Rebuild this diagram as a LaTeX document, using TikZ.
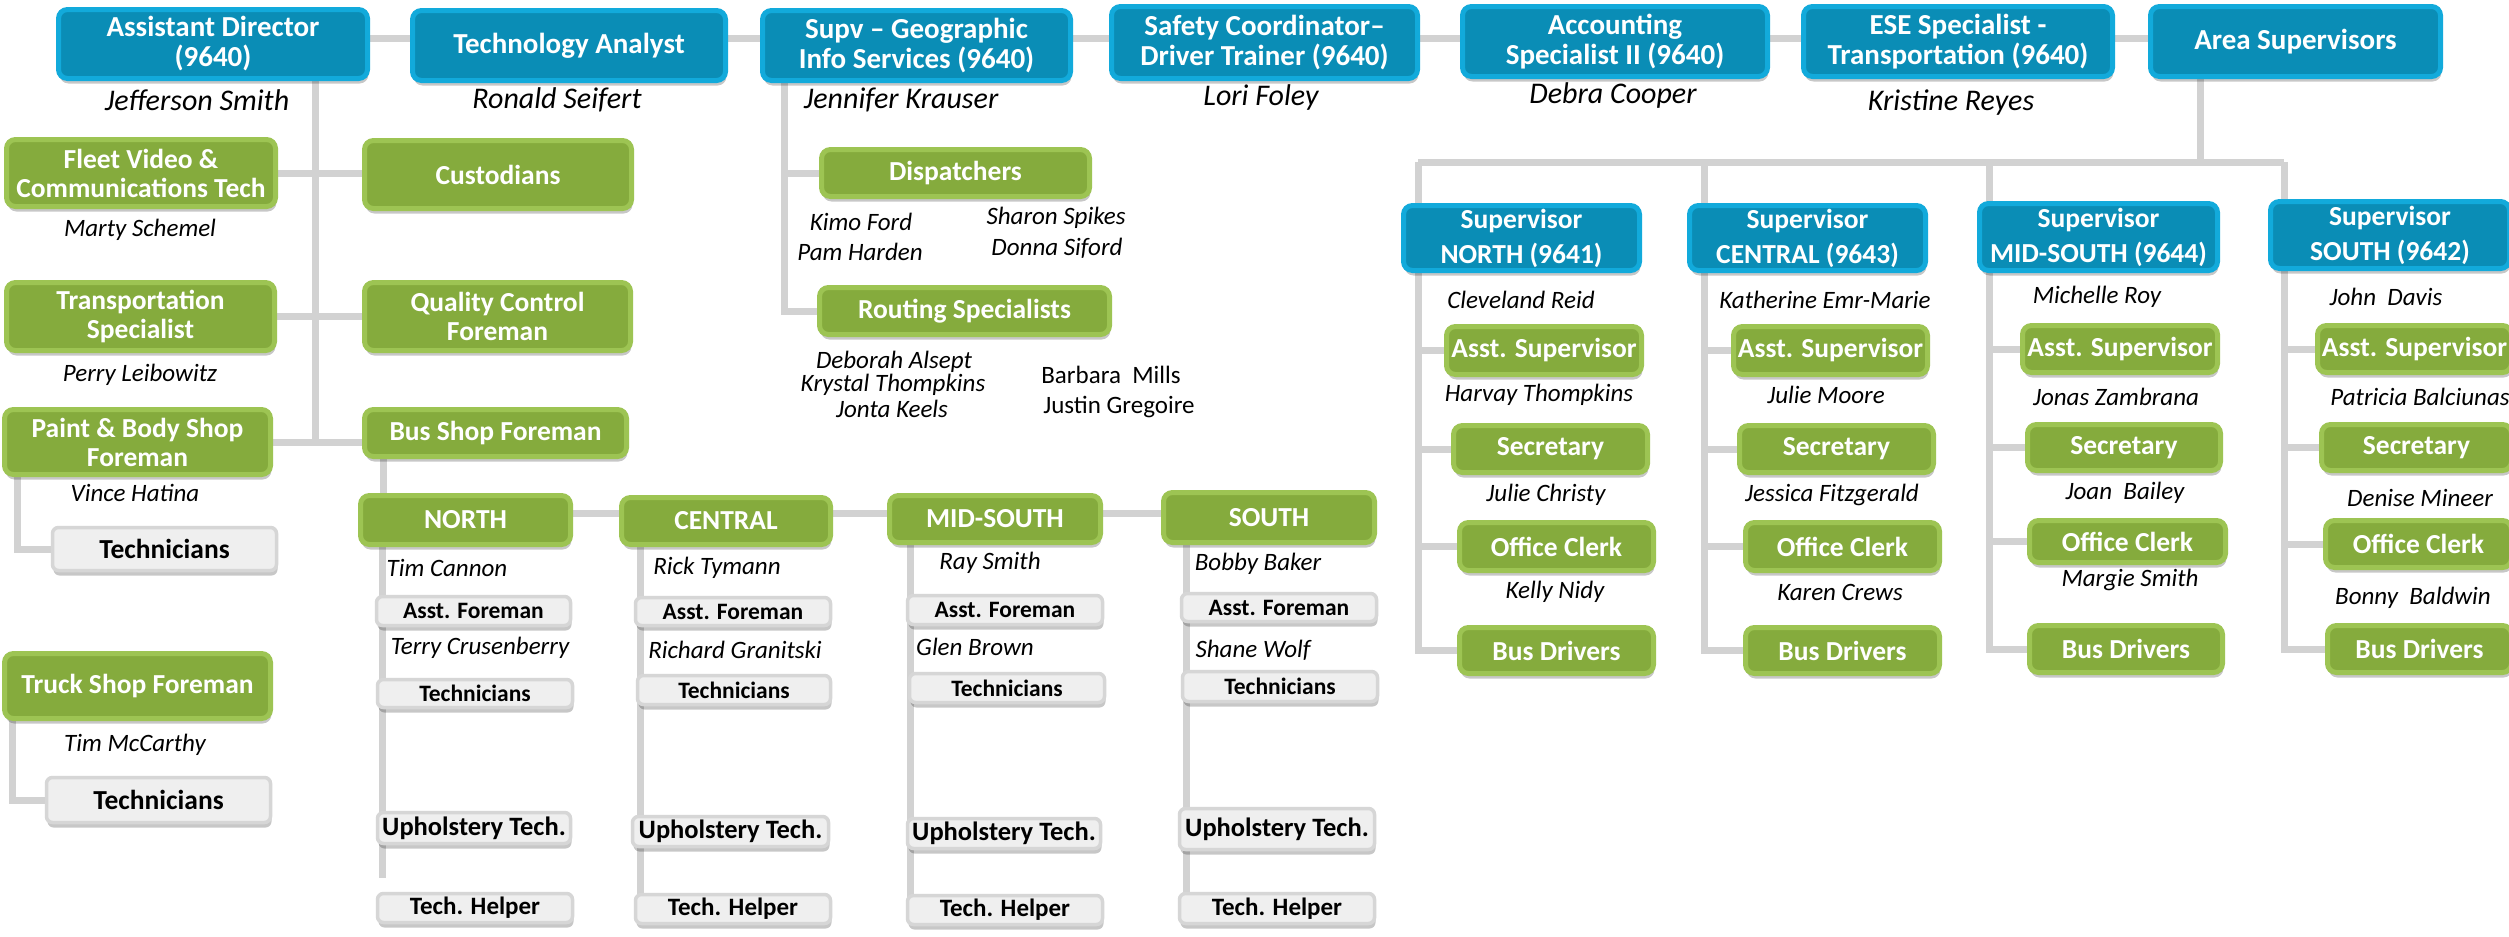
\documentclass[tikz,border=0pt]{standalone}
\usepackage{fontspec}
\setmainfont{Carlito}
\usetikzlibrary{shadows,backgrounds,calc}
\definecolor{bfill}{HTML}{0A8DB6}
\definecolor{bbd}{HTML}{12AADB}
\definecolor{gfill}{HTML}{85AB3D}
\definecolor{gbd}{HTML}{9DC453}
\definecolor{xfill}{HTML}{EFEFEF}
\definecolor{xbd}{HTML}{D6D6D6}
\definecolor{lnc}{HTML}{D2D2D2}
\tikzset{
 boxbase/.style={rounded corners=9pt, inner sep=0pt, outer sep=0pt, align=center,
   drop shadow={shadow xshift=1pt, shadow yshift=-5pt, opacity=0.22, fill=black}},
 bluebox/.style={boxbase, fill=bfill, draw=bbd, line width=5pt, text=white, font=\bfseries\fontsize{29}{30}\selectfont},
 supbox/.style={bluebox, font=\bfseries\fontsize{27.5}{35}\selectfont},
 greenbox/.style={boxbase, fill=gfill, draw=gbd, line width=5pt, text=white, font=\bfseries\fontsize{27.5}{29}\selectfont},
 greybox/.style={boxbase, rounded corners=6pt, fill=xfill, draw=xbd, line width=3.5pt, text=black, font=\bfseries\fontsize{23.5}{26}\selectfont},
 greybig/.style={greybox, font=\bfseries\fontsize{27.5}{29}\selectfont},
 greyup/.style={greybox, font=\bfseries\fontsize{26.5}{29}\selectfont},
 greyhelp/.style={greybox, font=\bfseries\fontsize{25}{29}\selectfont},
 nm/.style={font=\itshape\fontsize{25}{30}\selectfont, inner sep=0pt},
 nmtop/.style={font=\itshape\fontsize{30}{32}\selectfont, inner sep=0pt},
 nmup/.style={font=\fontsize{25}{30}\selectfont, inner sep=0pt},
 conn/.style={draw=lnc, line width=7pt},
}
\newcommand\bx[7]{\node[#2, minimum width={(#5-#3-5)*1pt}, minimum height={(#6-#4-5)*1pt}] (#1) at ({(#3+#5)/2},{(#4+#6)/2}) {#7};}
\begin{document}
\begin{tikzpicture}[x=1pt,y=-1pt]
\useasboundingbox (0,0) rectangle (2509,937);
% top row
\bx{ad}{bluebox}{56}{7}{370}{81}{Assistant Director\\(9640)}
\bx{ta}{bluebox}{410}{8}{728}{83}{Technology Analyst}
\bx{gis}{bluebox}{760}{8}{1073}{83}{Supv – Geographic\\Info Services (9640)}
\bx{safe}{bluebox}{1109}{4}{1420}{81}{Safety Coordinator–\\Driver Trainer (9640)}
\bx{acct}{bluebox}{1460}{4}{1770}{79}{Accounting\\Specialist II (9640)}
\bx{ese}{bluebox}{1801}{4}{2115}{79}{ESE Specialist -\\Transportation (9640)}
\bx{area}{bluebox}{2148}{4}{2443}{79}{Area Supervisors}
\node[nmtop] (n1) at (197,100) {Jefferson Smith};
\node[nmtop] (n2) at (557,100) {Ronald Seifert};
\node[nmtop] (n3) at (901,100) {Jennifer Krauser};
\node[nmtop] (n4) at (1261,97) {Lori Foley};
\node[nmtop] (n5) at (1613,95) {Debra Cooper};
\node[nmtop] (n6) at (1951,103) {Kristine Reyes};
% left column
\bx{fleet}{greenbox}{4}{137}{278}{209}{Fleet Video \&\\Communications Tech}
\bx{cust}{greenbox}{362}{138}{634}{211}{Custodians}
\bx{trans}{greenbox}{4}{280}{277}{353}{Transportation\\Specialist}
\bx{qc}{greenbox}{362}{280}{633}{353}{Quality Control\\Foreman}
\bx{paint}{greenbox}{2}{407}{273}{477}{Paint \& Body Shop\\Foreman}
\bx{bus}{greenbox}{362}{407}{629}{459}{Bus Shop Foreman}
\bx{truck}{greenbox}{2}{651}{273}{721}{Truck Shop Foreman}
\bx{ptech}{greybig}{50}{525}{279}{573}{Technicians}
\bx{ttech}{greybig}{44}{775}{273}{825}{Technicians}
\node[nm] (n7) at (140,230) {Marty Schemel};
\node[nm] (n8) at (140,375) {Perry Leibowitz};
\node[nm] (n9) at (135,493) {Vince Hatina};
\node[nm] (n10) at (135,745) {Tim McCarthy};
% dispatch
\bx{disp}{greenbox}{819}{147}{1092}{199}{Dispatchers}
\bx{rout}{greenbox}{817}{285}{1112}{337}{Routing Specialists}
\node[nm] (d1) at (861,222) {Kimo Ford};
\node[nm] (d2) at (860,252) {Pam Harden};
\node[nm] (d3) at (1056,218) {Sharon Spikes};
\node[nm] (d4) at (1057,248) {Donna Siford};
\node[nm] (r1) at (894,362) {Deborah Alsept};
\node[nm] (r2) at (893,385) {Krystal Thompkins};
\node[nm] (r3) at (892,409) {Jonta Keels};
\node[nmup] (r4) at (1111,375) {Barbara\ \ Mills};
\node[nmup] (r5) at (1119,407) {Justin Gregoire};
% bus shop regions
\bx{rn}{greenbox}{358}{493}{573}{547}{NORTH}
\bx{rc}{greenbox}{619}{495}{833}{547}{CENTRAL}
\bx{rm}{greenbox}{887}{493}{1103}{545}{MID-SOUTH}
\bx{rs}{greenbox}{1161}{490}{1377}{545}{SOUTH}
\bx{naf}{greybox}{374}{594}{573}{628}{Asst. Foreman}
\bx{ntc}{greybox}{375}{677}{575}{710}{Technicians}
\bx{nup}{greyup}{375}{810}{573}{846}{Upholstery Tech.}
\bx{nhp}{greyhelp}{375}{891}{575}{925}{Tech. Helper}
\bx{caf}{greybox}{633}{595}{833}{628}{Asst. Foreman}
\bx{ctc}{greybox}{635}{673}{833}{707}{Technicians}
\bx{cup}{greyup}{630}{814}{831}{849}{Upholstery Tech.}
\bx{chp}{greyhelp}{633}{892}{833}{926}{Tech. Helper}
\bx{maf}{greybox}{905}{593}{1105}{627}{Asst. Foreman}
\bx{mtc}{greybox}{907}{671}{1107}{705}{Technicians}
\bx{mup}{greyup}{905}{816}{1103}{851}{Upholstery Tech.}
\bx{mhp}{greyhelp}{905}{893}{1105}{927}{Tech. Helper}
\bx{saf}{greybox}{1179}{591}{1379}{624}{Asst. Foreman}
\bx{stc}{greybox}{1180}{669}{1380}{704}{Technicians}
\bx{sup}{greyup}{1177}{806}{1377}{852}{Upholstery Tech.}
\bx{shp}{greyhelp}{1177}{891}{1377}{926}{Tech. Helper}
\node[nm] (b1) at (447,568) {Tim Cannon};
\node[nm] (b2) at (480,648) {Terry Crusenberry};
\node[nm] (b3) at (717,568) {Rick Tymann};
\node[nm] (b4) at (735,650) {Richard Granitski};
\node[nm] (b5) at (990,563) {Ray Smith};
\node[nm] (b6) at (975,647) {Glen Brown};
\node[nm] (b7) at (1258,564) {Bobby Baker};
\node[nm] (b8) at (1253,650) {Shane Wolf};
% supervisors
\bx{sn}{supbox}{1401}{203}{1642}{273}{Supervisor\\NORTH (9641)}
\bx{sc}{supbox}{1687}{203}{1928}{273}{Supervisor\\CENTRAL (9643)}
\bx{sm}{supbox}{1977}{201}{2220}{273}{Supervisor\\MID-SOUTH (9644)}
\bx{ss}{supbox}{2268}{199}{2512}{271}{Supervisor\\SOUTH (9642)}
\bx{nas}{greenbox}{1444}{324}{1644}{377}{Asst. Supervisor}
\bx{nsec}{greenbox}{1451}{423}{1650}{475}{Secretary}
\bx{noc}{greenbox}{1457}{520}{1656}{573}{Office Clerk}
\bx{nbd}{greenbox}{1457}{625}{1656}{676}{Bus Drivers}
\bx{cas}{greenbox}{1731}{324}{1930}{377}{Asst. Supervisor}
\bx{csec}{greenbox}{1737}{423}{1936}{475}{Secretary}
\bx{coc}{greenbox}{1743}{520}{1942}{573}{Office Clerk}
\bx{cbd}{greenbox}{1743}{625}{1942}{676}{Bus Drivers}
\bx{mas}{greenbox}{2020}{323}{2220}{375}{Asst. Supervisor}
\bx{msec}{greenbox}{2025}{422}{2223}{473}{Secretary}
\bx{moc}{greenbox}{2027}{518}{2228}{565}{Office Clerk}
\bx{mbd}{greenbox}{2027}{623}{2225}{675}{Bus Drivers}
\bx{sas}{greenbox}{2315}{323}{2514}{375}{Asst. Supervisor}
\bx{ssec}{greenbox}{2319}{422}{2514}{473}{Secretary}
\bx{soc}{greenbox}{2323}{518}{2514}{570}{Office Clerk}
\bx{sbd}{greenbox}{2325}{623}{2514}{675}{Bus Drivers}
\node[nm] (s1) at (1521,300) {Cleveland Reid};
\node[nm] (s2) at (1539,395) {Harvay Thompkins};
\node[nm] (s3) at (1546,495) {Julie Christy};
\node[nm] (s4) at (1555,592) {Kelly Nidy};
\node[nm] (s5) at (1825,300) {Katherine Emr-Marie};
\node[nm] (s6) at (1826,395) {Julie Moore};
\node[nm] (s7) at (1832,495) {Jessica Fitzgerald};
\node[nm] (s8) at (1840,592) {Karen Crews};
\node[nm] (s9) at (2097,297) {Michelle Roy};
\node[nm] (s10) at (2116,397) {Jonas Zambrana};
\node[nm] (s11) at (2125,493) {Joan\ \ Bailey};
\node[nm] (s12) at (2130,580) {Margie Smith};
\node[nm] (s13) at (2386,297) {John\ \ Davis};
\node[nm] (s14) at (2420,397) {Patricia Balciunas};
\node[nm] (s15) at (2420,498) {Denise Mineer};
\node[nm] (s16) at (2413,598) {Bonny\ \ Baldwin};
% connectors
\coordinate (tl) at (0,38);
\coordinate (trk) at (315,0);
\coordinate (pl) at (17,0);
\coordinate (tk) at (12,0);
\coordinate (bl) at (383,0);
\coordinate (rl) at (0,513);
\coordinate (v1) at (382,0);
\coordinate (v2) at (640,0);
\coordinate (v3) at (910,0);
\coordinate (v4) at (1186,0);
\coordinate (nend) at (382,878);
\coordinate (gl) at (784,0);
\coordinate (at) at (2200,0);
\coordinate (hl) at (0,162);
\coordinate (c1) at (1418,0);
\coordinate (c2) at (1704,0);
\coordinate (c3) at (1989,0);
\coordinate (c4) at (2284,0);
\begin{scope}[on background layer]
\fill[white] (0,0) rectangle (2509,937);
\draw[conn] (ad.center |- tl) -- (area.center |- tl);
\draw[conn] (trk |- ad.south) -- (trk |- paint.east);
\draw[conn] (fleet.east) -- (fleet.east -| cust.west);
\draw[conn] (trans.east) -- (trans.east -| qc.west);
\draw[conn] (paint.east) -- (paint.east -| bus.west);
\draw[conn] (pl |- paint.south) |- (ptech.west);
\draw[conn] (tk |- truck.south) |- (ttech.west);
\draw[conn] (bl |- bus.south) -- (bl |- rn.north);
\draw[conn] (rn.center |- rl) -- (rs.center |- rl);
\draw[conn] (v1 |- rn.south) -- (nend);
\draw[conn] (v2 |- rc.south) -- (v2 |- chp.center);
\draw[conn] (v3 |- rm.south) -- (v3 |- mhp.center);
\draw[conn] (v4 |- rs.south) -- (v4 |- shp.center);
\draw[conn] (gl |- gis.south) |- (rout.west);
\draw[conn] (gl |- disp.west) -- (disp.west);
\draw[conn] (at |- area.south) -- (at |- hl);
\draw[conn] (c1 |- hl) -- (c4 |- hl);
\draw[conn] (c1 |- hl) |- (nbd.west);
\draw[conn] (c2 |- hl) |- (cbd.west);
\draw[conn] (c3 |- hl) |- (mbd.west);
\draw[conn] (c4 |- hl) |- (sbd.west);
\foreach \a/\b in {c1/nas,c1/nsec,c1/noc,c2/cas,c2/csec,c2/coc,c3/mas,c3/msec,c3/moc,c4/sas,c4/ssec,c4/soc}
  \draw[conn] (\a |- \b.west) -- (\b.west);
\end{scope}
\end{tikzpicture}
\end{document}
